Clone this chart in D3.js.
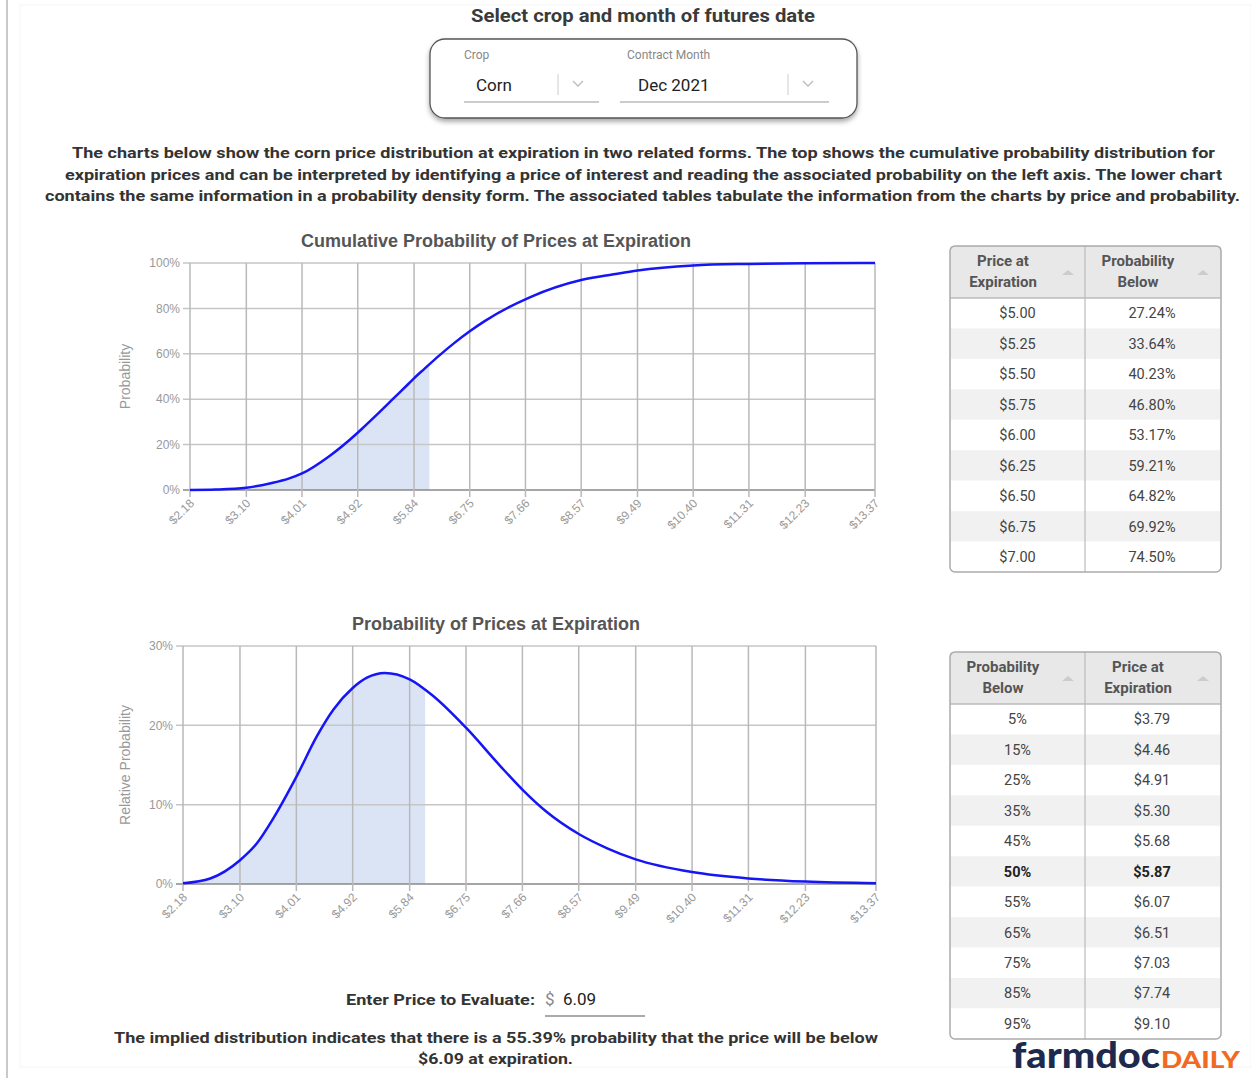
<!DOCTYPE html>
<html>
<head>
<meta charset="utf-8">
<script src="https://cdn.jsdelivr.net/npm/d3@7"></script>
<style>
  html, body { margin: 0; padding: 0; background: #fff; }
  svg { display: block; }
</style>
</head>
<body>
<div id="page"></div>
<script>
// Chart values
const xTickLabels = ["$2.18", "$3.10", "$4.01", "$4.92", "$5.84", "$6.75", "$7.66", "$8.57", "$9.49", "$10.40", "$11.31", "$12.23", "$13.37"];
const cdfTicks = [0, 20, 40, 60, 80, 100];
const pdfTicks = [0, 10, 20, 30];

const cdfPrices = [2.18, 2.60, 3.10, 3.50, 3.79, 4.01, 4.46, 4.91, 5.00, 5.25, 5.50, 5.75, 5.87, 6.00, 6.25, 6.50, 6.75, 7.00, 7.74, 8.57, 9.10, 9.49, 10.40, 11.31, 12.23, 13.37];
const cdfProbs  = [0, 0.2, 1.0, 3.0, 5, 7.3, 15, 25, 27.24, 33.64, 40.23, 46.80, 50, 53.17, 59.21, 64.82, 69.92, 74.50, 85, 92.5, 95, 96.7, 98.9, 99.6, 99.9, 100];

const pdfPrices = [2.18, 2.62, 3.10, 3.37, 3.64, 4.01, 4.34, 4.61, 4.92, 5.15, 5.44, 5.84, 6.22, 6.75, 7.30, 7.66, 8.05, 8.57, 9.03, 9.49, 10.40, 11.31, 12.23, 13.37];
const pdfValues = [0.1, 0.7, 3.0, 5.1, 8.3, 13.5, 18.6, 22.0, 24.7, 26.0, 26.6, 25.8, 23.7, 19.7, 14.9, 11.9, 9.1, 6.3, 4.5, 3.1, 1.5, 0.7, 0.3, 0.1];

const tablePrices = ["$5.00", "$5.25", "$5.50", "$5.75", "$6.00", "$6.25", "$6.50", "$6.75", "$7.00"];
const tableProbBelow = ["27.24%", "33.64%", "40.23%", "46.80%", "53.17%", "59.21%", "64.82%", "69.92%", "74.50%"];

const quantileProbs  = ["5%", "15%", "25%", "35%", "45%", "50%", "55%", "65%", "75%", "85%", "95%"];
const quantilePrices = ["$3.79", "$4.46", "$4.91", "$5.30", "$5.68", "$5.87", "$6.07", "$6.51", "$7.03", "$7.74", "$9.10"];
const highlightRow = "50%";

const evalPrice = 6.09;
const evalProb  = "55.39%";

const paragraph = [
  "The charts below show the corn price distribution at expiration in two related forms. The top shows the cumulative probability distribution for",
  "expiration prices and can be interpreted by identifying a price of interest and reading the associated probability on the left axis. The lower chart",
  "contains the same information in a probability density form. The associated tables tabulate the information from the charts by price and probability."
];

const W = 1251, H = 1078;
const uiFont = "Roboto, 'Liberation Sans', sans-serif";
const chartFont = "'Liberation Sans', Arial, sans-serif";

const svg = d3.select("#page").append("svg")
  .attr("width", W).attr("height", H)
  .attr("viewBox", `0 0 ${W} ${H}`);

const defs = svg.append("defs");
const shadow = defs.append("filter").attr("id", "shadow")
  .attr("x", "-10%").attr("y", "-20%").attr("width", "120%").attr("height", "150%");
shadow.append("feDropShadow").attr("dx", 0).attr("dy", 3).attr("stdDeviation", 2.5)
  .attr("flood-color", "#000").attr("flood-opacity", 0.35);

// page frame
svg.append("line").attr("x1", 7).attr("x2", 7).attr("y1", 0).attr("y2", H)
  .style("stroke", "#c9c9c9").style("stroke-width", 2);
svg.append("rect").attr("x", 20).attr("y", 5).attr("width", W - 20).attr("height", 1062)
  .style("fill", "none").style("stroke", "#f5f5f5");

// header + selectors
svg.append("text").attr("x", 471).attr("y", 22).attr("textLength", 344).attr("lengthAdjust", "spacingAndGlyphs")
  .style("font-family", uiFont).style("font-weight", 700).style("font-size", "18px").style("fill", "#3a3a3a")
  .text("Select crop and month of futures date");

svg.append("rect").attr("x", 430).attr("y", 39).attr("width", 427).attr("height", 79).attr("rx", 15)
  .style("fill", "#fff").style("stroke", "#555").style("stroke-width", 1.3).attr("filter", "url(#shadow)");

const selects = [
  { label: "Crop", value: "Corn", x0: 464, x1: 599, labelX: 464, valueX: 476, sep: 558 },
  { label: "Contract Month", value: "Dec 2021", x0: 620, x1: 829, labelX: 627, valueX: 638, sep: 788 }
];
selects.forEach(s => {
  svg.append("text").attr("x", s.labelX).attr("y", 59)
    .style("font-family", uiFont).style("font-size", "12px").style("fill", "#888").text(s.label);
  svg.append("text").attr("x", s.valueX).attr("y", 91)
    .style("font-family", uiFont).style("font-size", "17px").style("fill", "#222").text(s.value);
  svg.append("line").attr("x1", s.x0).attr("x2", s.x1).attr("y1", 102).attr("y2", 102)
    .style("stroke", "#999").style("stroke-width", 1.2);
  svg.append("line").attr("x1", s.sep).attr("x2", s.sep).attr("y1", 74).attr("y2", 95)
    .style("stroke", "#ccc").style("stroke-width", 1);
  svg.append("path").attr("d", `M${s.sep + 15},81 l5,5 l5,-5`)
    .style("fill", "none").style("stroke", "#bbb").style("stroke-width", 1.3);
});

// explanatory paragraph
const paraWidths = [[72, 1215], [65, 1222], [45, 1240]];
paragraph.forEach((line, i) => {
  const [a, b] = paraWidths[i];
  svg.append("text").attr("x", a).attr("y", 158 + i * 21.5)
    .attr("textLength", b - a).attr("lengthAdjust", "spacingAndGlyphs")
    .style("font-family", uiFont).style("font-weight", 700).style("font-size", "15px").style("fill", "#333")
    .text(line);
});

// chart builder
function drawChart(opt) {
  const x = d3.scaleLinear().domain([2.18, 13.37]).range(opt.xRange);
  const y = d3.scaleLinear().domain(opt.yDomain).range(opt.yRange);
  const g = svg.append("g");
  const tickVals = xTickLabels.map(t => +t.slice(1));

  g.append("text").attr("x", 496).attr("y", opt.titleY).attr("text-anchor", "middle")
    .style("font-family", chartFont).style("font-weight", 700).style("font-size", "18px").style("fill", "#555")
    .text(opt.title);

  // clip + shaded area up to the evaluated price
  const clipId = "clip" + opt.id;
  defs.append("clipPath").attr("id", clipId).append("rect")
    .attr("x", x(2.18)).attr("y", y(opt.yDomain[1]) - 10)
    .attr("width", x(evalPrice) - x(2.18)).attr("height", y(0) - y(opt.yDomain[1]) + 10);

  const pts = opt.xs.map((p, i) => [p, opt.ys[i]]);
  const area = d3.area().x(d => x(d[0])).y0(y(0)).y1(d => y(d[1])).curve(d3.curveMonotoneX);
  g.append("path").datum(pts).attr("d", area).attr("clip-path", `url(#${clipId})`)
    .style("fill", "#dbe4f5");

  // grid
  g.selectAll(".hgrid").data(opt.yTicks).enter().append("line")
    .attr("x1", x(2.18) - 7).attr("x2", x(13.37))
    .attr("y1", d => y(d)).attr("y2", d => y(d))
    .style("stroke", d => d === 0 ? "#888" : "#c6c6c6").style("stroke-width", 1.5);
  g.selectAll(".vgrid").data(tickVals).enter().append("line")
    .attr("x1", d => x(d)).attr("x2", d => x(d))
    .attr("y1", y(opt.yDomain[1])).attr("y2", y(0) + 7)
    .style("stroke", "#b9b9b9").style("stroke-width", 1.5);

  // tick labels
  g.selectAll(".ylab").data(opt.yTicks).enter().append("text")
    .attr("x", x(2.18) - 10).attr("y", d => y(d)).attr("dy", "0.35em").attr("text-anchor", "end")
    .style("font-family", chartFont).style("font-size", "12px").style("fill", "#999")
    .text(d => d + "%");
  g.selectAll(".xlab").data(xTickLabels).enter().append("text")
    .attr("transform", (d, i) => `translate(${x(tickVals[i]) + 5},${y(0) + 14}) rotate(-45)`)
    .attr("text-anchor", "end")
    .style("font-family", chartFont).style("font-size", "12px").style("fill", "#999")
    .text(d => d);

  g.append("text").attr("transform", `translate(130,${(y(0) + y(opt.yDomain[1])) / 2}) rotate(-90)`)
    .attr("text-anchor", "middle")
    .style("font-family", chartFont).style("font-size", "14px").style("fill", "#999")
    .text(opt.yTitle);

  const line = d3.line().x(d => x(d[0])).y(d => y(d[1])).curve(d3.curveMonotoneX);
  g.append("path").datum(pts).attr("d", line)
    .style("fill", "none").style("stroke", "#1515f5").style("stroke-width", 2.5);
}

drawChart({
  id: "cdf", title: "Cumulative Probability of Prices at Expiration", titleY: 247,
  xRange: [190, 875], yDomain: [0, 100], yRange: [490, 263], yTicks: cdfTicks,
  xs: cdfPrices, ys: cdfProbs, yTitle: "Probability"
});
drawChart({
  id: "pdf", title: "Probability of Prices at Expiration", titleY: 630,
  xRange: [183, 876], yDomain: [0, 30], yRange: [884, 646], yTicks: pdfTicks,
  xs: pdfPrices, ys: pdfValues, yTitle: "Relative Probability"
});

// tables
function drawTable(opt) {
  const x0 = 950, x1 = 1221, xm = 1085, headH = 52, rowH = 30.45;
  const g = svg.append("g");
  const n = opt.col1.length;
  const h = headH + n * rowH;
  g.append("rect").attr("x", x0).attr("y", opt.y).attr("width", x1 - x0).attr("height", h).attr("rx", 5)
    .style("fill", "#fff");
  g.append("rect").attr("x", x0).attr("y", opt.y).attr("width", x1 - x0).attr("height", headH)
    .style("fill", "#e8e8e8");
  g.selectAll(".row").data(opt.col1).enter().append("rect")
    .attr("x", x0 + 1).attr("width", x1 - x0 - 2)
    .attr("y", (d, i) => opt.y + headH + i * rowH).attr("height", rowH)
    .style("fill", (d, i) => i % 2 ? "#f1f1f1" : "#fff");
  g.append("line").attr("x1", x0).attr("x2", x1).attr("y1", opt.y + headH).attr("y2", opt.y + headH)
    .style("stroke", "#bbb").style("stroke-width", 1.5);
  g.append("line").attr("x1", xm).attr("x2", xm).attr("y1", opt.y).attr("y2", opt.y + h)
    .style("stroke", "#bbb").style("stroke-width", 1.2);
  g.append("rect").attr("x", x0).attr("y", opt.y).attr("width", x1 - x0).attr("height", h).attr("rx", 5)
    .style("fill", "none").style("stroke", "#aaa").style("stroke-width", 1.5);

  const heads = [[opt.head1, 1003, 1068], [opt.head2, 1138, 1203]];
  heads.forEach(([lines, cx, ax]) => {
    lines.forEach((t, j) => {
      g.append("text").attr("x", cx).attr("y", opt.y + 20 + j * 21).attr("text-anchor", "middle")
        .style("font-family", uiFont).style("font-weight", 700).style("font-size", "15px").style("fill", "#555")
        .text(t);
    });
    g.append("path").attr("d", `M${ax - 6},${opt.y + 29} l6,-5 l6,5 z`).style("fill", "#ccc");
  });

  [[opt.col1, 1017.5], [opt.col2, 1152]].forEach(([vals, cx]) => {
    g.selectAll(null).data(vals).enter().append("text")
      .attr("x", cx).attr("y", (d, i) => opt.y + headH + i * rowH + rowH / 2).attr("dy", "0.36em")
      .attr("text-anchor", "middle")
      .style("font-family", uiFont).style("font-size", "14.5px")
      .style("font-weight", (d, i) => opt.col1[i] === highlightRow ? 700 : 400)
      .style("fill", (d, i) => opt.col1[i] === highlightRow ? "#222" : "#444")
      .text(d => d);
  });
}

drawTable({ y: 246, head1: ["Price at", "Expiration"], head2: ["Probability", "Below"],
  col1: tablePrices, col2: tableProbBelow });
drawTable({ y: 652, head1: ["Probability", "Below"], head2: ["Price at", "Expiration"],
  col1: quantileProbs, col2: quantilePrices });

// evaluation input and sentence
svg.append("text").attr("x", 346).attr("y", 1005).attr("textLength", 189).attr("lengthAdjust", "spacingAndGlyphs")
  .style("font-family", uiFont).style("font-weight", 700).style("font-size", "15px").style("fill", "#333")
  .text("Enter Price to Evaluate:");
svg.append("text").attr("x", 545).attr("y", 1005)
  .style("font-family", uiFont).style("font-size", "17px").style("fill", "#888").text("$");
svg.append("text").attr("x", 563).attr("y", 1005)
  .style("font-family", uiFont).style("font-size", "17px").style("fill", "#222").text(evalPrice.toFixed(2));
svg.append("line").attr("x1", 545).attr("x2", 645).attr("y1", 1016).attr("y2", 1016)
  .style("stroke", "#aaa").style("stroke-width", 2);

svg.append("text").attr("x", 114).attr("y", 1043).attr("textLength", 764).attr("lengthAdjust", "spacingAndGlyphs")
  .style("font-family", uiFont).style("font-weight", 700).style("font-size", "15px").style("fill", "#333")
  .text(`The implied distribution indicates that there is a ${evalProb} probability that the price will be below`);
svg.append("text").attr("x", 418).attr("y", 1064).attr("textLength", 155).attr("lengthAdjust", "spacingAndGlyphs")
  .style("font-family", uiFont).style("font-weight", 700).style("font-size", "15px").style("fill", "#333")
  .text(`$${evalPrice.toFixed(2)} at expiration.`);

// logo
svg.append("text").attr("x", 1012).attr("y", 1068).attr("textLength", 148).attr("lengthAdjust", "spacingAndGlyphs")
  .style("font-family", "Lato, 'Open Sans', sans-serif").style("font-weight", 900).style("font-size", "36px")
  .style("fill", "#1d2a4d").text("farmdoc");
svg.append("text").attr("x", 1161).attr("y", 1068).attr("textLength", 79).attr("lengthAdjust", "spacingAndGlyphs")
  .style("font-family", "Lato, 'Open Sans', sans-serif").style("font-weight", 900).style("font-size", "23px")
  .style("fill", "#f26a22").text("DAILY");
</script>
</body>
</html>
